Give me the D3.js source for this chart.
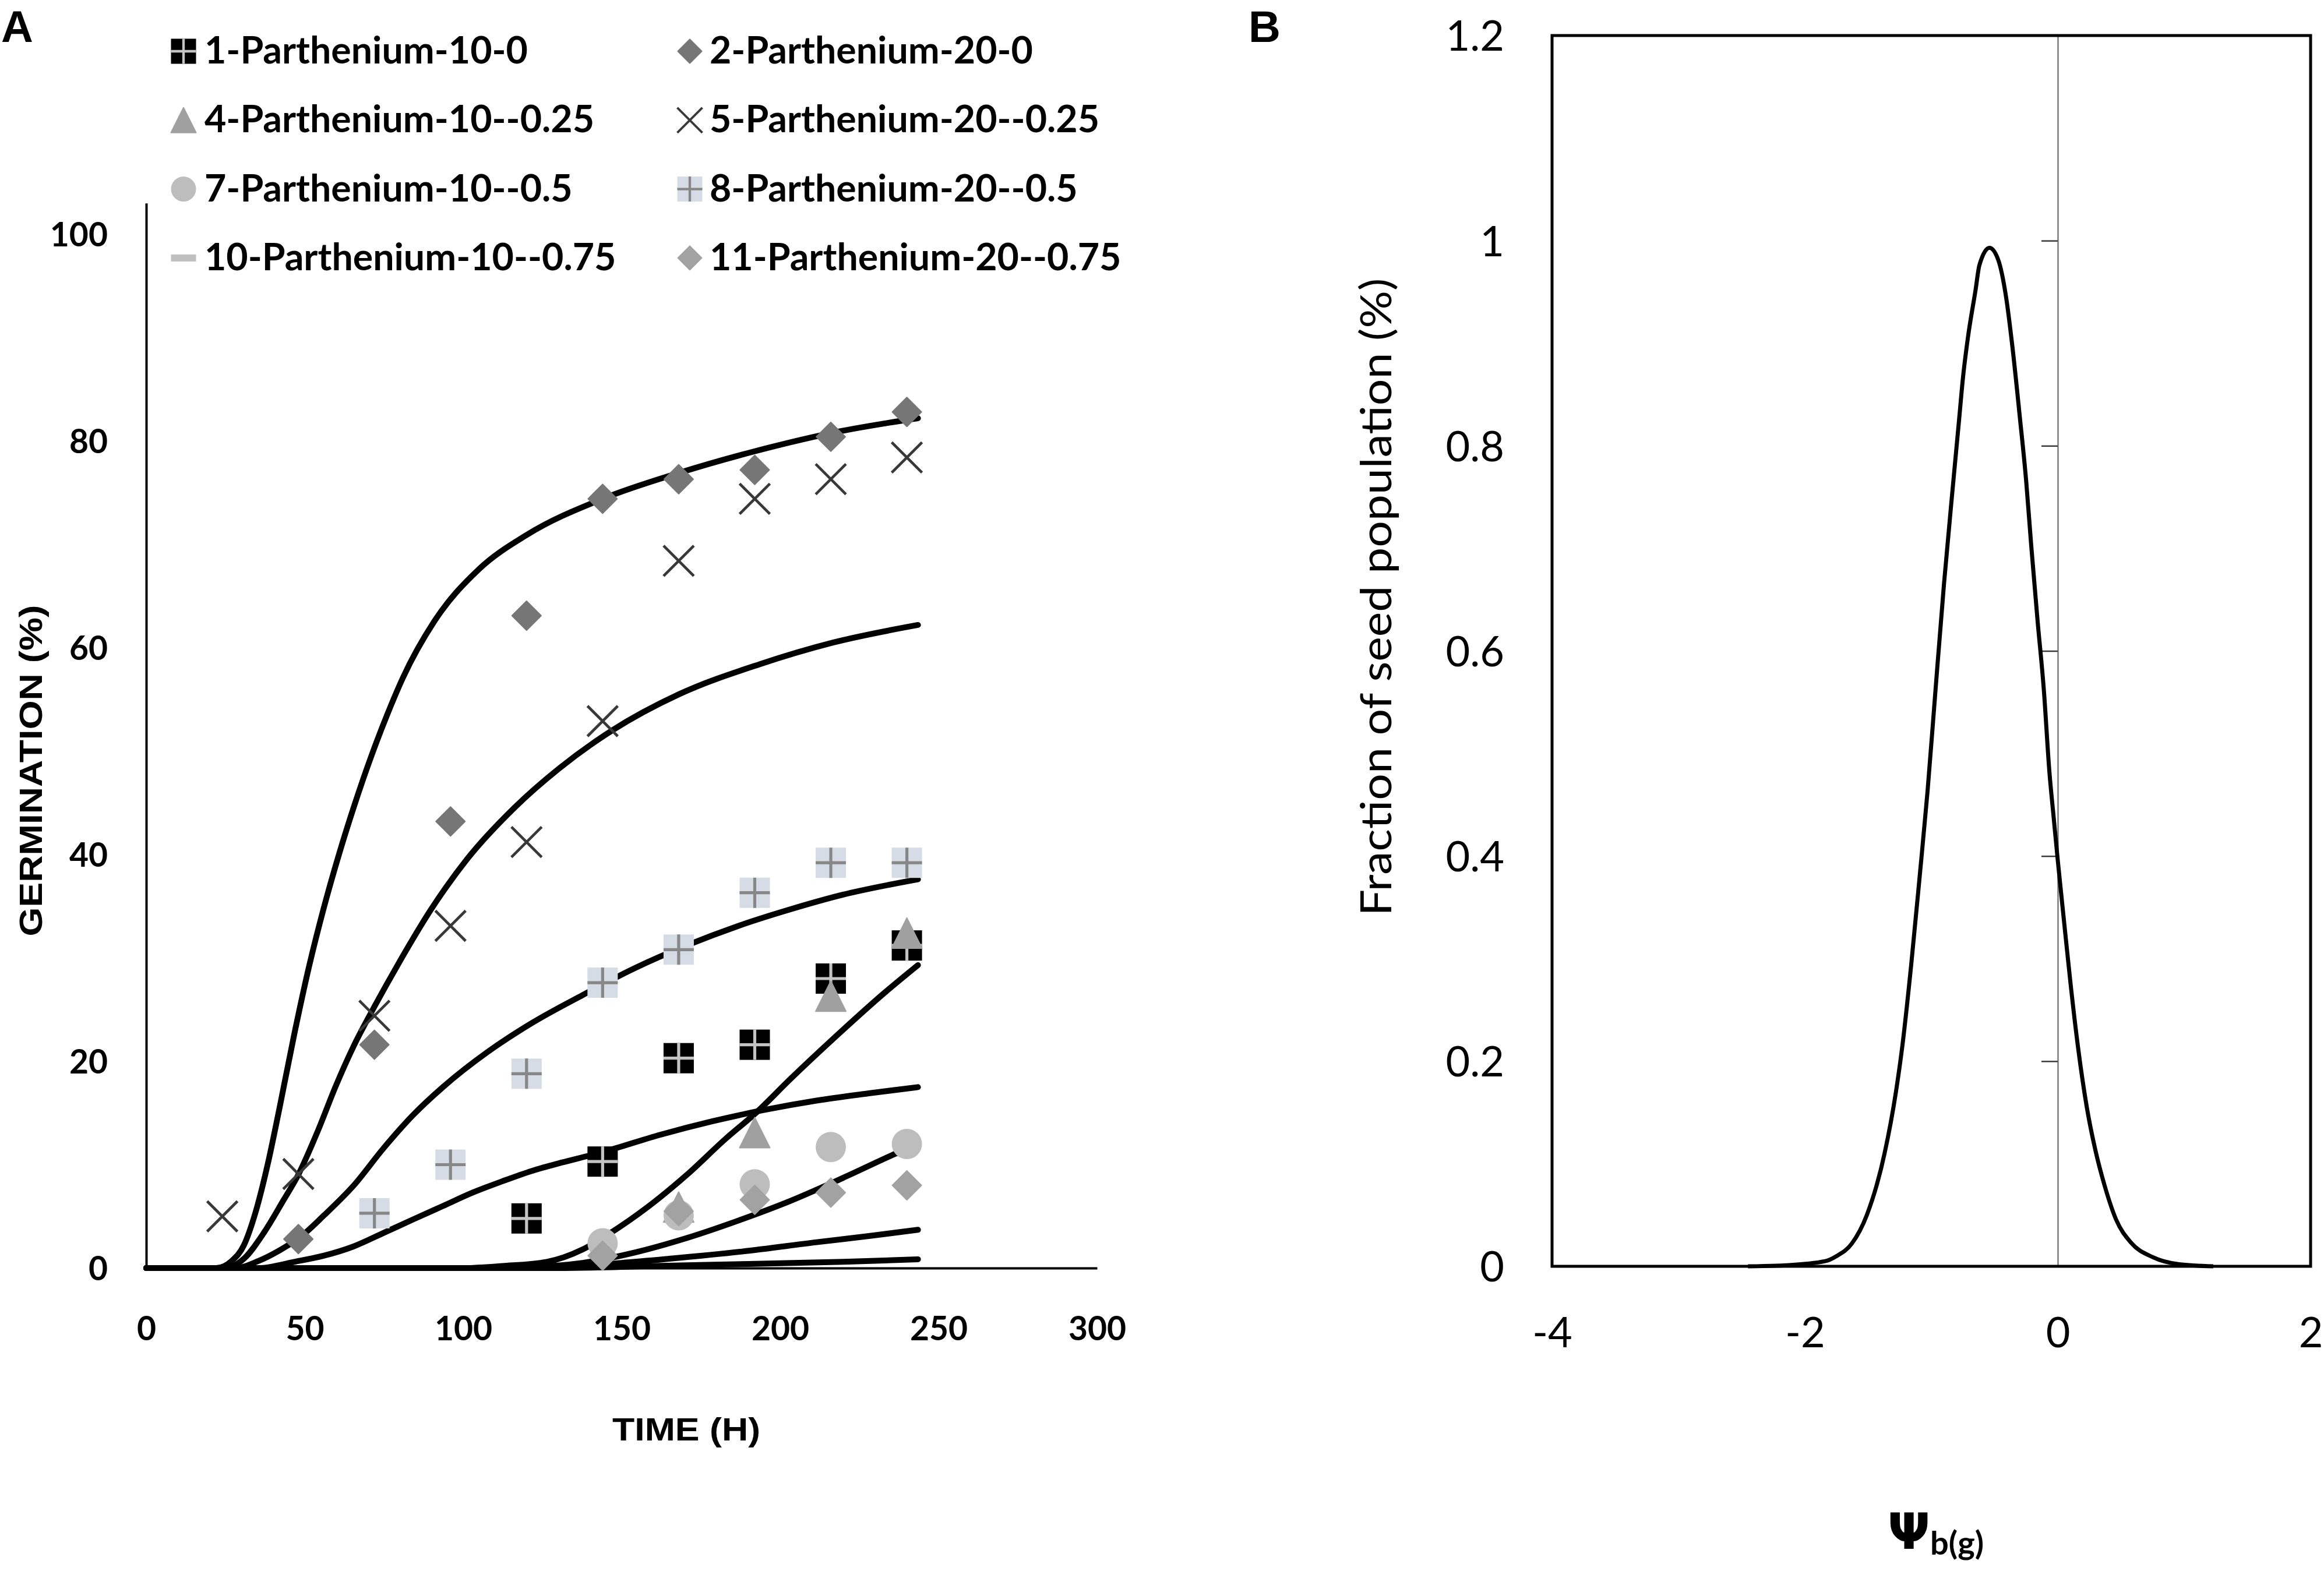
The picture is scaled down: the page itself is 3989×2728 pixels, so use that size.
<!DOCTYPE html>
<html><head><meta charset="utf-8">
<script src="https://cdn.jsdelivr.net/npm/d3@7"></script>
<style>body{margin:0;background:#fff}</style>
</head><body>
<svg id="c" width="3989" height="2728" xmlns="http://www.w3.org/2000/svg"></svg>
<script>
// ---------- DATA: panel A ----------
const times = [24, 48, 72, 96, 120, 144, 168, 192, 216, 240];
const s1  = [null, null, null, null, 4.8, 10.3, 20.3, 21.6, 28.0, 31.2];
const s2  = [null, 2.8, 21.6, 43.2, 63.1, 74.4, 76.3, 77.2, 80.4, 82.8];
const s4  = [null, null, null, null, null, null, 5.9, 13.1, 26.3, 32.4];
const s5  = [5.0, 9.1, 24.4, 33.1, 41.2, 52.9, 68.4, 74.4, 76.3, 78.4];
const s7  = [null, null, null, null, null, 2.4, 5.1, 8.1, 11.7, 12.0];
const s8  = [null, null, 5.3, 10.0, 18.8, 27.6, 30.8, 36.3, 39.2, 39.2];
const s10 = [null, null, null, null, null, null, null, null, null, null];
const s11 = [null, null, null, null, null, 1.2, 5.5, 6.6, 7.3, 8.0];
const legendLabels = ['1-Parthenium-10-0','2-Parthenium-20-0','4-Parthenium-10--0.25','5-Parthenium-20--0.25',
  '7-Parthenium-10--0.5','8-Parthenium-20--0.5','10-Parthenium-10--0.75','11-Parthenium-20--0.75'];

// fitted curves: [time, germination]
const fit1 = [[0,0],[22,0],[27,0.7],[30.8,2.2],[34.5,5.4],[38.3,10],[42,15.4],[46.7,22.6],[51.4,29.2],[56,34.8],[61,40.2],[65.5,44.6],[71,49.5],[76,53.5],[81,57.1],[91,62.6],[105,67.6],[120,70.9],[144,74.4],[168,76.9],[192,79.0],[216.7,80.8],[243.5,82.2]];
const fit2 = [[0,0],[25,0],[30.8,0.9],[37.3,3.5],[43,6.4],[48.1,9.1],[54.2,13.3],[59.8,17.6],[65.5,21.5],[72.2,25.4],[79.5,29.4],[89.9,34.7],[101.1,39.5],[116.1,44.5],[130.2,48.3],[147,52.0],[168.1,55.5],[193.5,58.4],[216.7,60.5],[243.5,62.2]];
const fit3 = [[0,0],[28,0],[35.5,0.7],[42,1.7],[48.6,3.0],[56.1,5.1],[65.5,8.0],[74.9,11.6],[84.2,14.8],[93.6,17.5],[107.7,20.9],[121.7,23.7],[137.7,26.4],[154.1,29.0],[170.5,31.2],[186.9,33.1],[203.3,34.7],[219.7,36.1],[243.5,37.6]];
const fit4 = [[0,0],[35.5,0],[46.7,0.6],[56.1,1.2],[65.5,2.1],[74.9,3.4],[84.2,4.7],[93.6,6.0],[103,7.3],[112.4,8.4],[121.7,9.4],[131,10.2],[140,10.9],[146,11.4],[162.3,12.9],[178.7,14.2],[195.1,15.3],[211.5,16.2],[228,16.9],[243.5,17.5]];
const fit5 = [[0,0],[100,0],[112.4,0.2],[126.4,0.6],[137.7,1.8],[146,3.3],[158.2,5.9],[170.5,9.0],[182.8,12.5],[192.7,15.1],[203.3,18.3],[219.7,23.0],[232.1,26.4],[243.5,29.3]];
const fit6 = [[0,0],[115,0],[128,0.2],[137.7,0.5],[154.1,1.5],[170.5,2.9],[186.9,4.6],[203.3,6.5],[219.7,8.7],[237.4,11.2],[243.5,12.0]];
const fit7 = [[0,0],[120,0],[150,0.5],[165,0.9],[188,1.6],[211.5,2.5],[228,3.1],[243.5,3.7]];
const fit8 = [[0,0],[130,0],[160,0.2],[190,0.4],[220,0.6],[243.5,0.85]];

const xTicksA = [0, 50, 100, 150, 200, 250, 300];
const yTicksA = [0, 20, 40, 60, 80, 100];

// ---------- DATA: panel B ----------
const psi  = [-2.45,-2.15,-1.84,-1.75,-1.63,-1.51,-1.37,-1.28,-1.23,-1.16,-1.09,-1.03,-0.97,-0.90,-0.83,-0.78,-0.75,-0.71,-0.65,-0.62,-0.54,-0.47,-0.41,-0.36,-0.30,-0.25,-0.21,-0.16,-0.11,-0.066,-0.031,0,0.05,0.10,0.16,0.23,0.30,0.37,0.46,0.58,0.75,0.96,1.23];
const frac = [0,0.001,0.005,0.010,0.022,0.050,0.110,0.170,0.214,0.293,0.383,0.463,0.557,0.665,0.760,0.826,0.866,0.906,0.952,0.976,0.993,0.981,0.946,0.898,0.828,0.766,0.703,0.630,0.562,0.482,0.436,0.396,0.336,0.277,0.214,0.155,0.112,0.079,0.046,0.023,0.009,0.002,0];
const xTicksB = [-4, -2, 0, 2];
const yTicksB = [0, 0.2, 0.4, 0.6, 0.8, 1, 1.2];
const yTickLabelsB = ['0','0.2','0.4','0.6','0.8','1','1.2'];

// ---------- STYLES ----------
const seriesValues = [s1, s2, s4, s5, s7, s8, s10, s11];
const seriesShapes = ['sqBlack','diamondDark','triangle','x','circle','sqLight','dash','diamondLight'];
const fits = [fit1, fit2, fit3, fit4, fit5, fit6, fit7, fit8];

const svg = d3.select('#c');
svg.append('rect').attr('width',3989).attr('height',2728).attr('fill','#fff');

function marker(g, shape, s) {
  const h = s / 2;
  if (shape === 'sqBlack' || shape === 'sqLight') {
    const fill = shape === 'sqBlack' ? '#000' : '#d6dce5';
    const cross = shape === 'sqBlack' ? '#c4c4c4' : '#878787';
    g.append('rect').attr('x',-h).attr('y',-h).attr('width',s).attr('height',s).attr('fill',fill);
    g.append('path').attr('d',`M${-h},0H${h}M0,${-h}V${h}`).attr('stroke',cross).attr('stroke-width',s*0.1);
  } else if (shape === 'diamondDark' || shape === 'diamondLight') {
    const c = shape === 'diamondDark' ? '#767676' : '#a2a2a2';
    g.append('path').attr('d',`M0,${-h+1}L${h-1},0L0,${h-1}L${-h+1},0Z`).attr('fill',c)
      .attr('stroke',c).attr('stroke-width',2).attr('stroke-linejoin','round');
  } else if (shape === 'triangle') {
    g.append('path').attr('d',`M0,${-h}L${h},${h}L${-h},${h}Z`).attr('fill','#a0a0a0')
      .attr('stroke','#a0a0a0').attr('stroke-width',2).attr('stroke-linejoin','round');
  } else if (shape === 'x') {
    g.append('path').attr('d',`M${-h},${-h}L${h},${h}M${h},${-h}L${-h},${h}`)
      .attr('stroke','#383838').attr('stroke-width',s*0.09).attr('fill','none');
  } else if (shape === 'circle') {
    g.append('circle').attr('r',h).attr('fill','#bdbdbd');
  } else if (shape === 'dash') {
    g.append('rect').attr('x',-h).attr('y',-s*0.14).attr('width',s).attr('height',s*0.28).attr('fill','#bfbfbf');
  }
}

// ---------- PANEL A ----------
const xA = d3.scaleLinear().domain([0, 300]).range([251, 1883]);
const yA = d3.scaleLinear().domain([0, 103]).range([2177, 2177 - 103 * 17.75]);

const gxA = svg.append('g').attr('transform', `translate(0,${yA(0)})`)
  .call(d3.axisBottom(xA).tickValues(xTicksA).tickSize(0).tickSizeOuter(0).tickPadding(84).tickFormat(d => String(d)));
gxA.select('.domain').attr('stroke','#000').attr('stroke-width',4);
gxA.selectAll('text').attr('font-family','Lato, "Open Sans", sans-serif').attr('font-weight','bold').attr('font-size',57).attr('fill','#000');

const gyA = svg.append('g').attr('transform', `translate(${xA(0)},0)`)
  .call(d3.axisLeft(yA).tickValues(yTicksA).tickSize(0).tickSizeOuter(0).tickPadding(66).tickFormat(d => String(d)));
gyA.select('.domain').attr('stroke','#000').attr('stroke-width',4);
gyA.selectAll('text').attr('font-family','Lato, "Open Sans", sans-serif').attr('font-weight','bold').attr('font-size',57).attr('fill','#000').attr('dy','0.36em');

const lineA = d3.line().x(d => xA(d[0])).y(d => yA(d[1])).curve(d3.curveMonotoneX);
svg.append('g').selectAll('path').data(fits).join('path')
  .attr('d', lineA).attr('fill','none').attr('stroke','#000').attr('stroke-width',10)
  .attr('stroke-linecap','round').attr('stroke-linejoin','round');

seriesValues.forEach((vals, i) => {
  const pts = times.map((t, j) => [t, vals[j]]).filter(d => d[1] !== null);
  pts.forEach(d => {
    const g = svg.append('g').attr('transform', `translate(${xA(d[0])},${yA(d[1])})`);
    marker(g, seriesShapes[i], 52);
  });
});

// legend
const legFont = 'Lato, "Open Sans", sans-serif';
const probe = svg.append('text').attr('font-family',legFont).attr('font-weight','bold').attr('font-size',100).text(legendLabels[0]);
const pw = probe.node().getComputedTextLength();
probe.remove();
const legSize = pw > 0 ? 100 * 555 / pw : 61;
legendLabels.forEach((lab, i) => {
  const col = i % 2, row = Math.floor(i / 2);
  const mx = [315, 1184][col], tx = [351, 1218][col];
  const base = 109 + row * 118.3;
  const g = svg.append('g').attr('transform', `translate(${mx},${base - 21})`);
  marker(g, seriesShapes[i], 43);
  svg.append('text').attr('x', tx).attr('y', base).attr('font-family', legFont).attr('font-weight','bold')
    .attr('font-size', legSize).attr('fill','#000').text(lab);
});

svg.append('text').attr('x',1178).attr('y',2473).attr('text-anchor','middle')
  .attr('font-family','"Liberation Sans", Arial, sans-serif').attr('font-weight','bold').attr('font-size',55)
  .attr('textLength',254).attr('lengthAdjust','spacingAndGlyphs').text('TIME (H)');
svg.append('text').attr('transform','translate(72,1323) rotate(-90)').attr('text-anchor','middle')
  .attr('font-family','"Liberation Sans", Arial, sans-serif').attr('font-weight','bold').attr('font-size',55)
  .attr('textLength',569).attr('lengthAdjust','spacingAndGlyphs').text('GERMINATION (%)');

svg.append('text').attr('x',2).attr('y',72).attr('font-family','"Liberation Sans", Arial, sans-serif')
  .attr('font-weight','bold').attr('font-size',76).text('A');

// ---------- PANEL B ----------
const xB = d3.scaleLinear().domain([-4, 2]).range([2664, 3966]);
const yB = d3.scaleLinear().domain([0, 1.2]).range([2174, 61]);

// axis through x = 0 with small ticks
const gz = svg.append('g').attr('transform', `translate(${xB(0)},0)`)
  .call(d3.axisLeft(yB).tickValues(yTicksB.slice(1, 6)).tickSize(28).tickSizeOuter(0).tickFormat(''));
gz.select('.domain').attr('stroke','#7a7a7a').attr('stroke-width',2.5);
gz.selectAll('.tick line').attr('stroke','#3a3a3a').attr('stroke-width',2.5);

const gyB = svg.append('g').attr('transform', `translate(${xB(-4)},0)`)
  .call(d3.axisLeft(yB).tickValues(yTicksB).tickSize(0).tickSizeOuter(0).tickPadding(82).tickFormat((d, i) => yTickLabelsB[i]));
gyB.select('.domain').remove();
gyB.selectAll('text').attr('font-family','Lato, "Open Sans", sans-serif').attr('font-size',72).attr('fill','#000').attr('dy','0.36em');

const gxB = svg.append('g').attr('transform', `translate(0,${yB(0)})`)
  .call(d3.axisBottom(xB).tickValues(xTicksB).tickSize(0).tickSizeOuter(0).tickPadding(88).tickFormat(d => String(d)));
gxB.select('.domain').remove();
gxB.selectAll('text').attr('font-family','Lato, "Open Sans", sans-serif').attr('font-size',72).attr('fill','#000');

const lineB = d3.line().x(d => xB(d[0])).y(d => yB(d[1])).curve(d3.curveMonotoneX);
svg.append('path').datum(psi.map((p, i) => [p, frac[i]])).attr('d', lineB)
  .attr('fill','none').attr('stroke','#000').attr('stroke-width',7).attr('stroke-linejoin','round');

svg.append('rect').attr('x',xB(-4)).attr('y',yB(1.2)).attr('width',xB(2)-xB(-4)).attr('height',yB(0)-yB(1.2))
  .attr('fill','none').attr('stroke','#000').attr('stroke-width',5);

const psiLab = svg.append('text').attr('x',3240).attr('y',2659)
  .attr('font-family','"DejaVu Sans", Lato, sans-serif').attr('font-weight','bold').attr('font-size',86).attr('fill','#000');
psiLab.append('tspan').text('Ψ');
psiLab.append('tspan').attr('dy',10).attr('font-size',56).attr('font-family','Lato, "Open Sans", sans-serif').text('b(g)');

svg.append('text').attr('transform','translate(2388,1025) rotate(-90)').attr('text-anchor','middle')
  .attr('font-family','Lato, "Open Sans", sans-serif').attr('font-size',74).attr('fill','#000')
  .attr('textLength',1095).attr('lengthAdjust','spacingAndGlyphs').text('Fraction of seed population (%)');

svg.append('text').attr('x',2143).attr('y',72).attr('font-family','"Liberation Sans", Arial, sans-serif')
  .attr('font-weight','bold').attr('font-size',76).text('B');
</script>
</body></html>
